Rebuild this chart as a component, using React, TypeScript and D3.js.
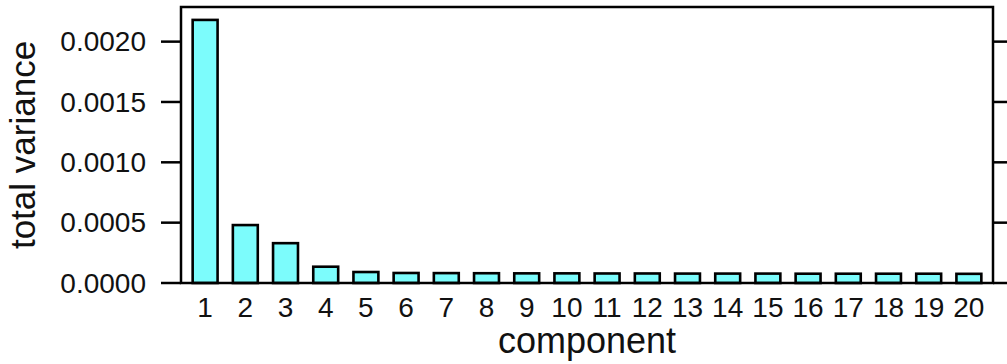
import React, { useEffect, useRef } from 'react'
import * as d3 from 'd3'

// explained variance per principal component
const components = d3.range(1, 21).map(String)
const variance = [
  0.00218, 0.00048, 0.00033, 0.000135, 0.000091, 0.000083, 0.000082, 0.000081, 0.00008, 0.00008,
  0.000079, 0.000079, 0.000078, 0.000078, 0.000078, 0.000077, 0.000077, 0.000077, 0.000077, 0.000076,
]
const yTicks = [0, 0.0005, 0.001, 0.0015, 0.002]

export default function App() {
  const svgRef = useRef<SVGSVGElement>(null)

  useEffect(() => {
    const svg = d3.select(svgRef.current)
    svg.selectAll('*').remove()

    const width = 1007
    const height = 364
    const left = 181, right = 993, top = 7, bottom = 283
    const font = '"Liberation Sans", Arial, Helvetica, sans-serif'

    // lattice-style factor axis: 0.4 .. n + 0.6
    const x = d3.scaleLinear().domain([0.4, components.length + 0.6]).range([left, right])
    const y = d3.scaleLinear().domain([0, 0.002287]).range([bottom, top])
    const barW = (x(1) - x(0)) * 0.62

    svg.attr('width', width).attr('height', height)

    // bars
    svg.selectAll('.bar').data(variance).enter().append('rect')
      .attr('class', 'bar')
      .attr('x', (d, i) => x(i + 1) - barW / 2)
      .attr('y', d => y(d))
      .attr('width', barW)
      .attr('height', d => y(0) - y(d))
      .style('fill', '#7cfcfc')
      .style('stroke', '#000')
      .style('stroke-width', 2.6)

    // panel border
    svg.append('rect')
      .attr('x', left).attr('y', top)
      .attr('width', right - left).attr('height', bottom - top)
      .style('fill', 'none')
      .style('stroke', '#000')
      .style('stroke-width', 2.5)

    // y ticks both sides
    const fmt = d3.format('.4f')
    const yt = svg.append('g')
    yt.selectAll('.tl').data(yTicks).enter().append('line')
      .attr('x1', left - 20).attr('x2', left)
      .attr('y1', d => y(d)).attr('y2', d => y(d))
      .style('stroke', '#000').style('stroke-width', 2.5)
    yt.selectAll('.tr').data(yTicks).enter().append('line')
      .attr('x1', right).attr('x2', right + 20)
      .attr('y1', d => y(d)).attr('y2', d => y(d))
      .style('stroke', '#000').style('stroke-width', 2.5)
    yt.selectAll('text').data(yTicks).enter().append('text')
      .attr('x', left - 35)
      .attr('y', d => y(d))
      .attr('dy', '0.35em')
      .attr('text-anchor', 'end')
      .style('font-family', font)
      .style('font-size', '28px')
      .style('fill', '#111')
      .text(d => fmt(d))

    // x labels
    svg.selectAll('.xl').data(components).enter().append('text')
      .attr('class', 'xl')
      .attr('x', (d, i) => x(i + 1))
      .attr('y', 317)
      .attr('text-anchor', 'middle')
      .style('font-family', font)
      .style('font-size', '28px')
      .style('fill', '#111')
      .text(d => d)

    // axis titles
    svg.append('text')
      .attr('x', (left + right) / 2)
      .attr('y', 353)
      .attr('text-anchor', 'middle')
      .style('font-family', font)
      .style('font-size', '36px')
      .style('fill', '#111')
      .text('component')

    svg.append('text')
      .attr('transform', `translate(35, ${(top + bottom) / 2}) rotate(-90)`)
      .attr('text-anchor', 'middle')
      .style('font-family', font)
      .style('font-size', '35px')
      .style('fill', '#111')
      .text('total variance')
  }, [])

  return (
    <div style={{ position: 'absolute', left: 0, top: 0 }}>
      <svg ref={svgRef} role="img" aria-label="Bar chart of total variance per component"></svg>
    </div>
  )
}
